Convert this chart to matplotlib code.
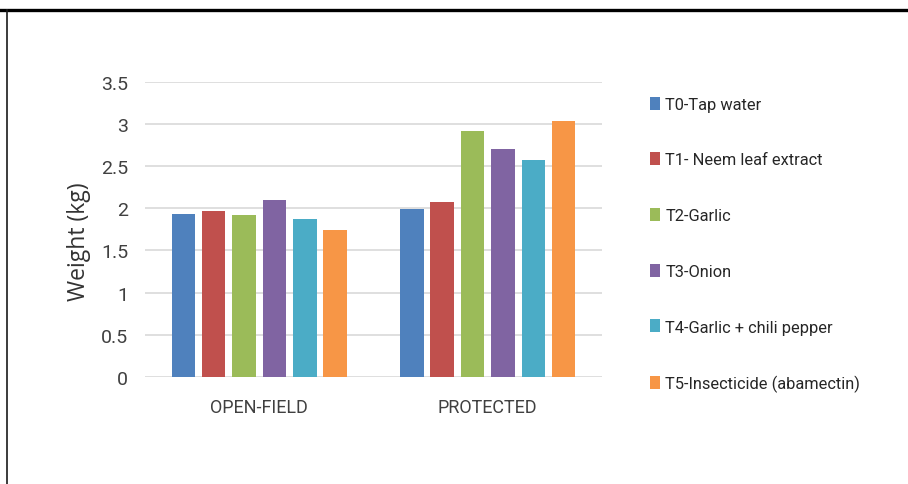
import matplotlib.pyplot as plt
from matplotlib.lines import Line2D
import numpy as np

plt.rcParams['font.family'] = ['Roboto', 'DejaVu Sans']

groups = ['OPEN-FIELD', 'PROTECTED']
treatments = ['T0-Tap water', 'T1- Neem leaf extract', 'T2-Garlic', 'T3-Onion',
              'T4-Garlic + chili pepper', 'T5-Insecticide (abamectin)']
open_field = [1.93, 1.97, 1.92, 2.10, 1.87, 1.74]
protected = [1.99, 2.07, 2.92, 2.70, 2.57, 3.04]
colors = ['#4f81bd', '#c0504d', '#9bbb59', '#8064a2', '#4bacc6', '#f79646']

fig = plt.figure(figsize=(9.08, 4.85), dpi=100, facecolor='white')
ax = fig.add_axes([0.1597, 0.2206, 0.5033, 0.6089])

x = np.arange(len(groups))
step = 0.133
width = 0.103
for i, (name, c) in enumerate(zip(treatments, colors)):
    vals = [open_field[i], protected[i]]
    ax.bar(x + (i - 2.5) * step, vals, width, color=c, label=name, zorder=3)

ax.set_xlim(-0.5, 1.5)
ax.set_ylim(0, 3.5)
ax.set_yticks(np.arange(0, 3.51, 0.5))
ax.set_yticklabels(['0', '0.5', '1', '1.5', '2', '2.5', '3', '3.5'])
ax.set_xticks(x)
ax.set_xticklabels(groups, fontsize=13, color='#262626')
ax.grid(axis='y', color='#d9d9d9', linewidth=1.2, zorder=0)
for s in ['top', 'right', 'left', 'bottom']:
    ax.spines[s].set_visible(False)
ax.tick_params(axis='both', length=0, colors='#404040')
ax.tick_params(axis='y', labelsize=14, pad=12)
ax.tick_params(axis='x', pad=15)
ax.set_ylabel('Weight (kg)', fontsize=16.5, color='#333333', family=['Open Sans'])
ax.yaxis.set_label_coords(-0.118, 0.46)

fig.legend(loc='center left', bbox_to_anchor=(0.7155, 0.494), frameon=False,
           fontsize=11.8, labelspacing=2.47,
           handlelength=0.6, handleheight=0.85, handletextpad=0.35,
           borderpad=0, borderaxespad=0, labelcolor='#262626')

# outer frame: heavy top rule and thin left edge
fig.add_artist(Line2D([0, 1], [0.978, 0.978], transform=fig.transFigure, color='black', linewidth=2.4))
fig.add_artist(Line2D([0.0072, 0.0072], [0, 0.978], transform=fig.transFigure, color='#1a1a1a', linewidth=1.2))

fig.savefig('out.png', dpi=100, facecolor='white')
